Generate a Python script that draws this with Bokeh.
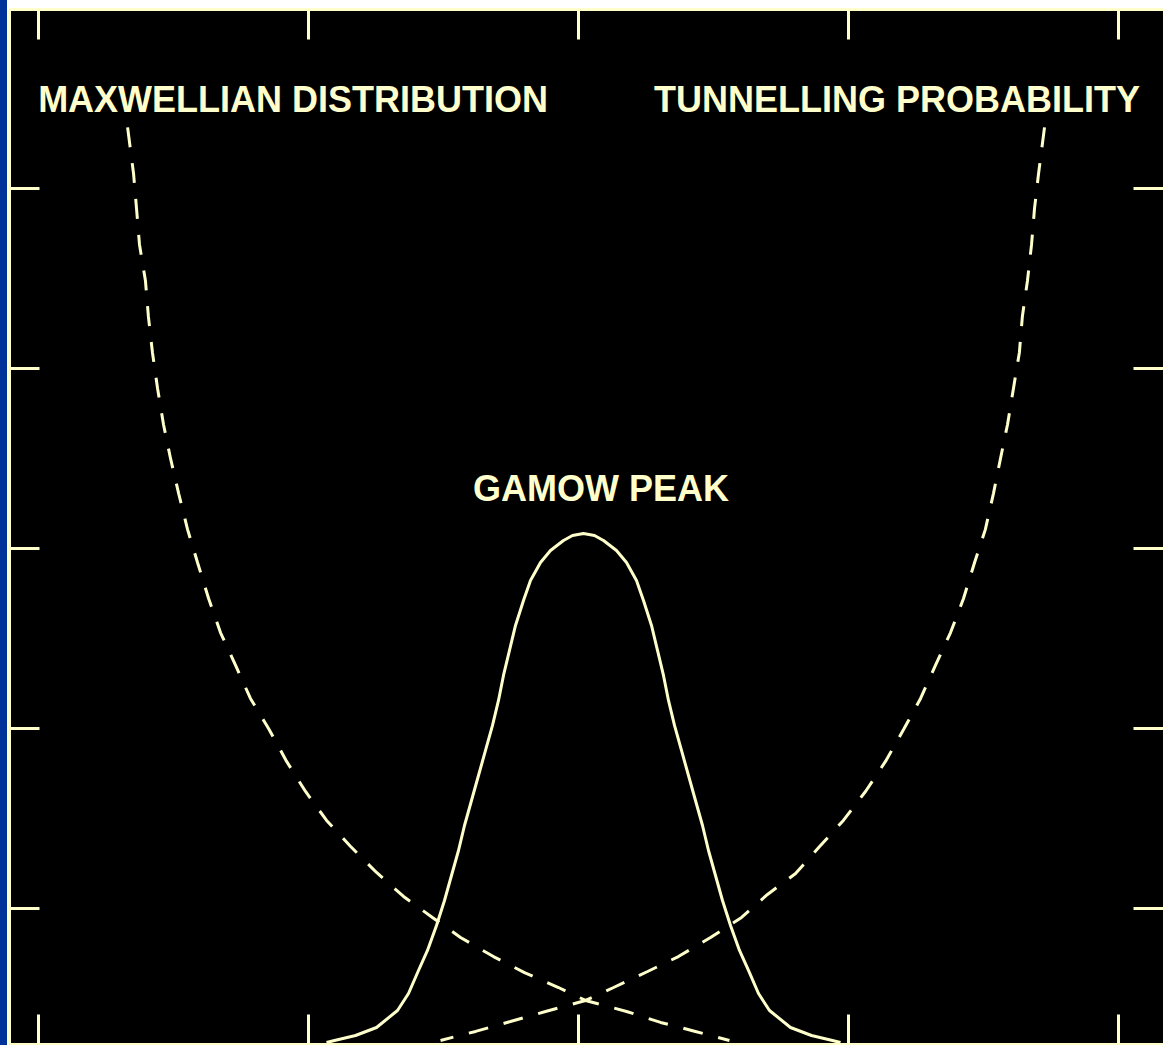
from bokeh.plotting import figure
from bokeh.models import LinearAxis, FixedTicker, Range1d, Div, Label
from bokeh.layouts import row
from bokeh.embed import file_html
from bokeh.resources import INLINE

# Maxwellian distribution (falls with energy)
maxwellian_energy = [0.330, 0.352, 0.363, 0.374, 0.396, 0.407, 0.422, 0.441, 0.463, 0.489,
                     0.519, 0.552, 0.589, 0.630, 0.674, 0.730, 0.785, 0.852, 0.919, 0.989,
                     1.067, 1.156, 1.252, 1.352, 1.459, 1.563, 1.685, 1.800, 1.926, 2.026,
                     2.178, 2.304, 2.433, 2.559]
maxwellian_value = [5.339, 5.083, 4.889, 4.689, 4.489, 4.289, 4.089, 3.889, 3.689, 3.500,
                    3.306, 3.106, 2.922, 2.722, 2.533, 2.350, 2.167, 2.000, 1.817, 1.650,
                    1.489, 1.344, 1.200, 1.067, 0.950, 0.839, 0.733, 0.644, 0.561, 0.489,
                    0.428, 0.367, 0.317, 0.267]

# Tunnelling probability (rises with energy)
tunnelling_energy = [3.726, 3.704, 3.689, 3.678, 3.663, 3.644, 3.633, 3.611, 3.589, 3.563,
                     3.537, 3.507, 3.467, 3.426, 3.378, 3.322, 3.267, 3.204, 3.137, 3.063,
                     2.981, 2.893, 2.804, 2.700, 2.604, 2.489, 2.370, 2.256, 2.130, 2.026,
                     1.878, 1.748, 1.619, 1.489]
tunnelling_value = [5.339, 5.083, 4.889, 4.689, 4.489, 4.289, 4.089, 3.889, 3.689, 3.500,
                    3.306, 3.106, 2.922, 2.722, 2.533, 2.350, 2.167, 1.994, 1.817, 1.650,
                    1.489, 1.344, 1.194, 1.078, 0.950, 0.839, 0.733, 0.650, 0.561, 0.489,
                    0.428, 0.372, 0.317, 0.267]

# Gamow peak (product of the two)
gamow_energy = [1.0667, 1.0963, 1.1741, 1.2519, 1.3296, 1.3704, 1.4074, 1.4407, 1.4741,
                1.5037, 1.5296, 1.5556, 1.5778, 1.6037, 1.6296, 1.6556, 1.6815, 1.7037,
                1.7222, 1.7444, 1.7667, 1.7963, 1.8222, 1.8593, 1.8963, 1.9444, 1.9778,
                2.0185,
                2.0593, 2.0926, 2.1407, 2.1778, 2.2148, 2.2407, 2.2704, 2.2926, 2.3148,
                2.3333, 2.3556, 2.3815, 2.4074, 2.4333, 2.4593, 2.4815, 2.5074, 2.5333,
                2.5630, 2.5963, 2.6296, 2.6667, 2.7074, 2.7852, 2.8630, 2.9407, 2.9704]
gamow_value = [0.2556, 0.2667, 0.2944, 0.3389, 0.4333, 0.5278, 0.6556, 0.7667, 0.9056,
               1.0444, 1.1833, 1.3222, 1.4611, 1.6000, 1.7389, 1.8778, 2.0167, 2.1556,
               2.2944, 2.4333, 2.5722, 2.7111, 2.8222, 2.9222, 2.9889, 3.0444, 3.0722,
               3.0833,
               3.0722, 3.0444, 2.9889, 2.9222, 2.8222, 2.7111, 2.5722, 2.4333, 2.2944,
               2.1556, 2.0167, 1.8778, 1.7389, 1.6000, 1.4611, 1.3222, 1.1833, 1.0444,
               0.9056, 0.7667, 0.6556, 0.5278, 0.4333, 0.3389, 0.2944, 0.2667, 0.2556]

x_ticks = [0, 1, 2, 3, 4]
y_ticks = [1, 2, 3, 4, 5]

curve_labels = ["MAXWELLIAN DISTRIBUTION", "TUNNELLING PROBABILITY", "GAMOW PEAK"]

INK = "#FFFFCC"
PANEL_BLUE = "#003399"

p = figure(width=1156, height=1045,
           x_range=Range1d(-0.1074, 4.1667), y_range=Range1d(0.2444, 5.994),
           x_axis_location=None, y_axis_location=None,
           output_backend="svg", toolbar_location=None,
           background_fill_color="black", border_fill_color="white",
           outline_line_color=None,
           min_border_left=2, min_border_right=0,
           min_border_top=9, min_border_bottom=1)
p.grid.visible = False


def frame_axis(ticks, show_line=True):
    # inward ticks only, no tick labels
    ax = LinearAxis(ticker=FixedTicker(ticks=ticks))
    ax.major_tick_in = 30
    ax.major_tick_out = 0
    ax.minor_tick_in = 0
    ax.minor_tick_out = 0
    ax.minor_tick_line_color = None
    ax.major_tick_line_color = INK
    ax.major_tick_line_width = 3
    ax.major_label_text_font_size = "0px"
    ax.major_label_text_color = None
    ax.major_label_standoff = 0
    ax.axis_label = None
    ax.axis_line_color = INK if show_line else None
    ax.axis_line_width = 3
    return ax


p.add_layout(frame_axis(x_ticks), "above")
p.add_layout(frame_axis(x_ticks), "below")
p.add_layout(frame_axis(y_ticks), "left")
p.add_layout(frame_axis(y_ticks, show_line=False), "right")

p.line(maxwellian_energy, maxwellian_value, line_color=INK, line_width=3,
       line_dash="20 16", line_cap="butt")
p.line(tunnelling_energy, tunnelling_value, line_color=INK, line_width=3,
       line_dash="20 16", line_cap="butt")
p.line(gamow_energy, gamow_value, line_color=INK, line_width=3, line_join="round")

label_style = dict(text_align="center", text_baseline="middle",
                   text_font="Liberation Sans", text_font_style="bold",
                   text_font_size="36px", text_color=INK)
p.add_layout(Label(x=0.943, y=5.494, text=curve_labels[0], **label_style))
p.add_layout(Label(x=3.180, y=5.494, text=curve_labels[1], **label_style))
p.add_layout(Label(x=2.083, y=3.331, text=curve_labels[2], **label_style))

strip = Div(width=7, height=1045, margin=0,
            styles={"background-color": PANEL_BLUE})
p.margin = 0

layout = row(strip, p, spacing=0, margin=0)

open("out.html", "w").write(file_html(layout, INLINE))
